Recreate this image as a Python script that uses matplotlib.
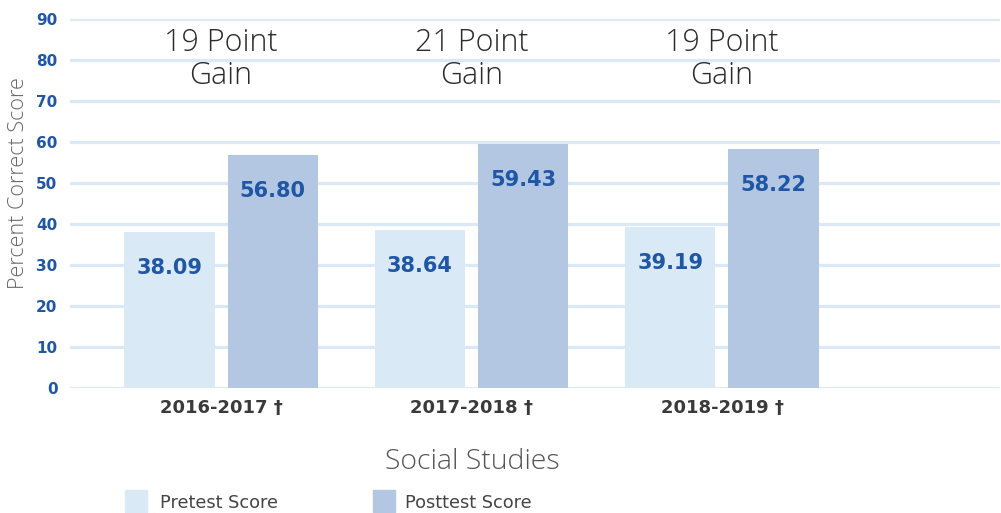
import numpy as np
import matplotlib
matplotlib.use("Agg")
import matplotlib.pyplot as plt
from matplotlib.patches import Rectangle

plt.rcParams['font.family'] = ['DejaVu Sans']
LightFont = ['Open Sans', 'DejaVu Sans']

# data
years = ['2016-2017 \u2020', '2017-2018 \u2020', '2018-2019 \u2020']
pretest = [38.09, 38.64, 39.19]
posttest = [56.80, 59.43, 58.22]
gains = ['19 Point\nGain', '21 Point\nGain', '19 Point\nGain']

PreCol = '#d9e9f6'
PostCol = '#b3c7e2'
GridCol = '#dbe9f6'
NumCol = '#1f56a6'

fig = plt.figure(figsize=(10.01, 5.13), dpi=100)
ax = fig.add_axes([70/1001, 125/513, 930/1001, 369/513])

x = np.arange(len(years))
w = 0.36
off = 0.206

b1 = ax.bar(x - off, pretest, w, color=PreCol, zorder=2)
b2 = ax.bar(x + off, posttest, w, color=PostCol, zorder=2)

for bars in (b1, b2):
    for b in bars:
        v = b.get_height()
        ax.annotate('%.2f' % v, (b.get_x() + b.get_width()/2, v),
                    xytext=(0, -36), textcoords='offset pixels',
                    ha='center', va='center', fontsize=15, fontweight='bold', color=NumCol)

for i, g in enumerate(gains):
    ax.text(x[i], 80.2, g, ha='center', va='center', fontsize=22, fontweight='light',
            color='#2b2b2b', linespacing=1.05, family=LightFont)

ax.set_ylim(0, 90)
ax.set_xlim(-0.603, 3.11)
ax.set_yticks(np.arange(0, 91, 10))
ax.yaxis.grid(True, color=GridCol, linewidth=2.3, zorder=0)
ax.set_axisbelow(True)
for s in ax.spines.values():
    s.set_visible(False)
ax.tick_params(axis='y', length=0, pad=9, labelcolor=NumCol, labelsize=11)
for t in ax.get_yticklabels():
    t.set_fontweight('bold')
ax.set_xticks(x)
ax.set_xticklabels(years, fontsize=13, fontweight='bold', color='#3a3a3a')
ax.tick_params(axis='x', length=0, pad=8)

ax.set_ylabel('Percent Correct Score', fontsize=15.5, color='#666666', fontweight='light',
              family=LightFont)
ax.yaxis.set_label_coords(-0.044, 0.556)
fig.text(472/1001, 1 - 462/513, 'Social Studies', ha='center', va='center',
         fontsize=20.5, fontweight='light', color='#555555', family=LightFont)

# legend
fig.patches.append(Rectangle((125/1001, 1/513), 22/1001, 22/513,
                             transform=fig.transFigure, color=PreCol))
fig.text(160/1001, 1 - 503/513, 'Pretest Score', ha='left', va='center', fontsize=12.8, color='#444444')
fig.patches.append(Rectangle((373/1001, 1/513), 22/1001, 22/513,
                             transform=fig.transFigure, color=PostCol))
fig.text(405/1001, 1 - 503/513, 'Posttest Score', ha='left', va='center', fontsize=12.8, color='#444444')

fig.savefig('out.png', dpi=100)
